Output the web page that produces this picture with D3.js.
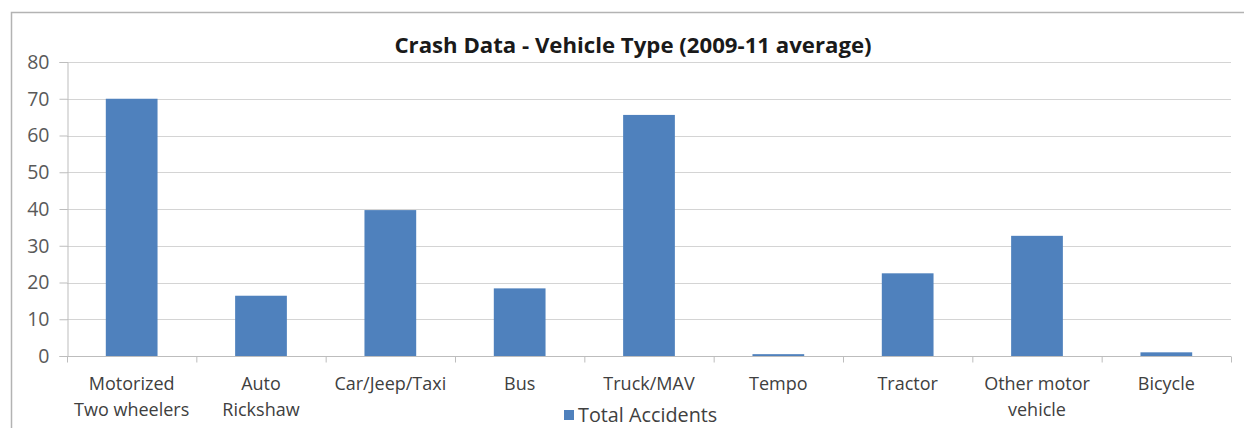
<!DOCTYPE html>
<html>
<head>
<meta charset="utf-8">
<script src="https://cdn.jsdelivr.net/npm/d3@7"></script>
<style>
  html, body { margin: 0; padding: 0; background: #fff; }
  svg { display: block; }
  text { font-family: "Open Sans", Lato, "Liberation Sans", sans-serif; }
</style>
</head>
<body>
<svg id="chart" width="1244" height="428"></svg>
<script>
// Average crash counts by vehicle type, 2009-11
const categories = [
  ["Motorized", "Two wheelers"],
  ["Auto", "Rickshaw"],
  ["Car/Jeep/Taxi"],
  ["Bus"],
  ["Truck/MAV"],
  ["Tempo"],
  ["Tractor"],
  ["Other motor", "vehicle"],
  ["Bicycle"]
];
const totalAccidents = [70, 16.4, 39.7, 18.4, 65.6, 0.5, 22.5, 32.7, 1.0];
const yTicks = [0, 10, 20, 30, 40, 50, 60, 70, 80];
const seriesName = "Total Accidents";
const chartTitle = "Crash Data - Vehicle Type (2009-11 average)";

const svg = d3.select("#chart");
const W = 1244, H = 428;
const plot = { left: 67, right: 1231, top: 62, bottom: 356 };

// outer chart frame
svg.append("rect")
  .attr("x", 11.5).attr("y", 12.5)
  .attr("width", W).attr("height", H)
  .attr("fill", "#fff").attr("stroke", "#b3b3b3").attr("stroke-width", 1.5);

const keys = categories.map((c, i) => i);
const x = d3.scaleBand().domain(keys).range([plot.left, plot.right]).paddingInner(0.6).paddingOuter(0.3);
const xb = d3.scaleBand().domain(keys).range([plot.left, plot.right]);
const y = d3.scaleLinear().domain([0, 80]).range([plot.bottom, plot.top]);

// horizontal gridlines
svg.append("g").selectAll("line").data(yTicks.filter(t => t > 0)).join("line")
  .attr("x1", plot.left).attr("x2", plot.right)
  .attr("y1", d => Math.round(y(d)) + 0.5).attr("y2", d => Math.round(y(d)) + 0.5)
  .attr("stroke", "#d4d4d4").attr("stroke-width", 1);

// y axis
const yAxis = svg.append("g")
  .attr("transform", `translate(${plot.left + 0.5},0)`)
  .call(d3.axisLeft(y).tickValues(yTicks).tickSize(8).tickPadding(10));
yAxis.select(".domain").attr("stroke", "#bdbdbd");
yAxis.selectAll(".tick line").attr("stroke", "#bdbdbd");
yAxis.selectAll(".tick text").attr("fill", "#595959").attr("font-size", 19.5)
  .attr("font-family", "'Open Sans', sans-serif");

// bars
svg.append("g").selectAll("rect").data(totalAccidents).join("rect")
  .attr("x", (d, i) => x(i))
  .attr("width", x.bandwidth())
  .attr("y", d => y(d))
  .attr("height", d => y(0) - y(d))
  .attr("fill", "#4f81bd");

// x axis with tick marks at category boundaries
const xg = svg.append("g").attr("transform", `translate(0,${plot.bottom + 0.5})`);
xg.append("line").attr("x1", plot.left).attr("x2", plot.right)
  .attr("stroke", "#bdbdbd");
xg.selectAll("line.tk").data(d3.range(keys.length + 1)).join("line")
  .attr("class", "tk")
  .attr("x1", i => plot.left + i * xb.step() + 0.5)
  .attr("x2", i => plot.left + i * xb.step() + 0.5)
  .attr("y1", 0).attr("y2", 6)
  .attr("stroke", "#bdbdbd");

// category labels
const lab = svg.append("g").selectAll("text").data(categories).join("text")
  .attr("x", (d, i) => xb(i) + xb.bandwidth() / 2)
  .attr("y", 390)
  .attr("text-anchor", "middle")
  .attr("fill", "#404040")
  .attr("font-size", 18);
lab.selectAll("tspan").data(d => d).join("tspan")
  .attr("x", function() { return d3.select(this.parentNode).attr("x"); })
  .attr("dy", (d, i) => i === 0 ? 0 : 26)
  .text(d => d);

// title
svg.append("text")
  .attr("x", 633).attr("y", 53)
  .attr("text-anchor", "middle")
  .attr("font-size", 22.2).attr("font-weight", "bold")
  .attr("fill", "#1a1a1a")
  .text(chartTitle);

// legend
const lg = svg.append("g").attr("transform", "translate(564,410)");
lg.append("rect").attr("width", 10).attr("height", 10).attr("fill", "#4f81bd");
lg.append("text").attr("x", 14).attr("y", 12)
  .attr("font-size", 19.8).attr("fill", "#404040")
  .text(seriesName);
</script>
</body>
</html>
